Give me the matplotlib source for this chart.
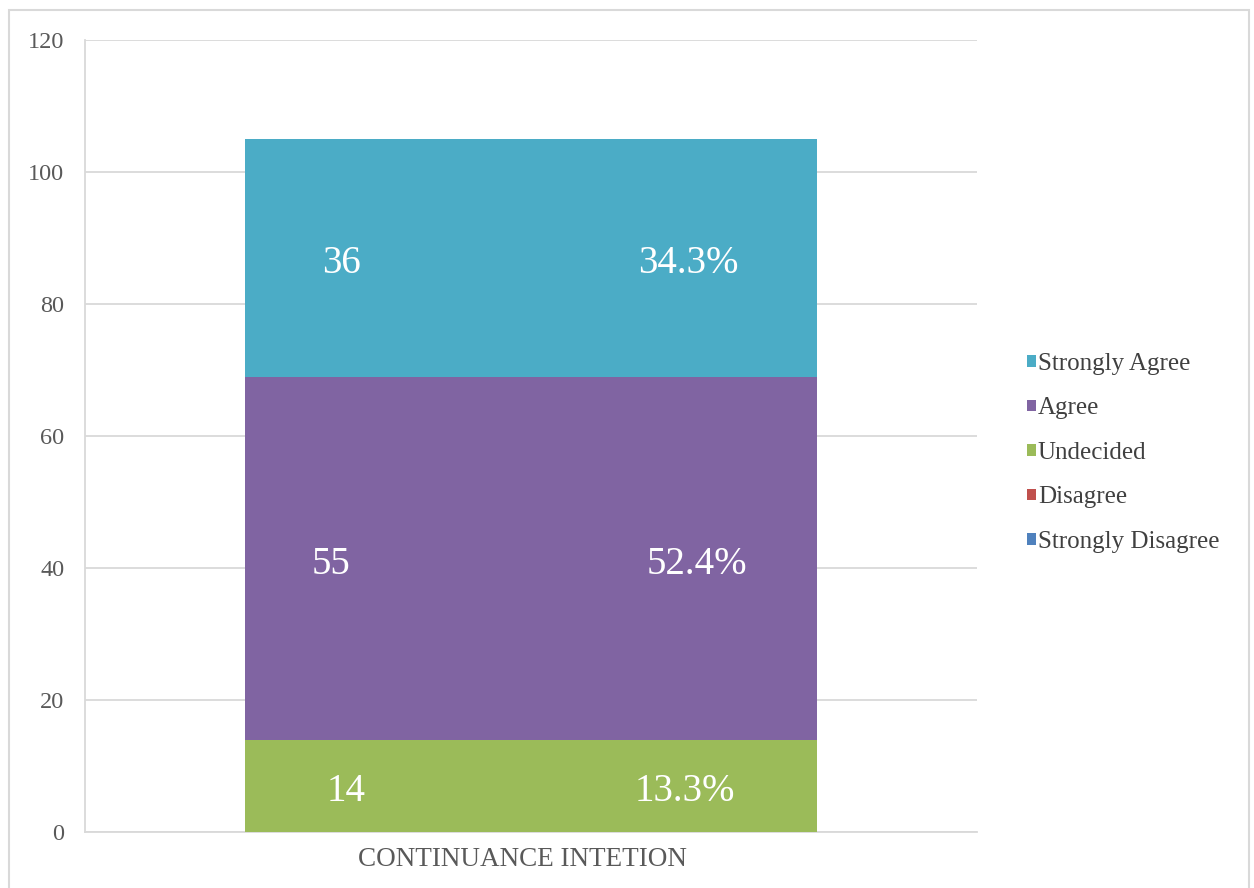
import matplotlib.pyplot as plt
from matplotlib.patches import Rectangle

plt.rcParams['font.family'] = ['Liberation Serif', 'DejaVu Serif']

category = "CONTINUANCE INTETION"
responses = ["Strongly Disagree", "Disagree", "Undecided", "Agree", "Strongly Agree"]
counts = [0, 0, 14, 55, 36]
percents = ["0.0%", "0.0%", "13.3%", "52.4%", "34.3%"]
colors = ["#4F81BD", "#C0504D", "#9BBB59", "#8064A2", "#4BACC6"]

# x positions of the two labels inside each segment (data units)
count_x = [-0.214, -0.214, -0.207, -0.224, -0.213]
pct_x = [0.172, 0.172, 0.172, 0.186, 0.176]

fig = plt.figure(figsize=(12.54, 8.88), dpi=100)
ax = fig.add_axes([0.0678, 0.0631, 0.7113, 0.8919])

# thin frame round the whole chart area
fig.patches.append(Rectangle((9 / 1254, -0.05), 1240 / 1254, 1.05 - 10 / 888,
                             transform=fig.transFigure, fill=False,
                             edgecolor="#d9d9d9", linewidth=1.5))

bottom = 0
bars = []
for i, (name, val, pct, col) in enumerate(zip(responses, counts, percents, colors)):
    b = ax.bar(0, val, width=0.642, bottom=bottom, color=col, label=name, zorder=3)
    bars.append(b)
    if val > 0:
        mid = bottom + val / 2 - 0.9
        ax.text(count_x[i], mid, str(val), ha="center", va="center",
                color="white", fontsize=28, zorder=4)
        ax.text(pct_x[i], mid, pct, ha="center", va="center",
                color="white", fontsize=28, zorder=4)
    bottom += val

ax.set_xlim(-0.5, 0.5)
ax.set_ylim(0, 120)
ax.set_yticks(range(0, 121, 20))
ax.set_xticks([-0.01])
ax.set_xticklabels([category])
ax.yaxis.grid(True, color="#d9d9d9", linewidth=1.3, zorder=0)
ax.tick_params(axis="y", length=0, pad=15, labelsize=17.5, labelcolor="#595959")
ax.tick_params(axis="x", length=0, pad=11, labelsize=19.5, labelcolor="#595959")

for side in ["top", "right"]:
    ax.spines[side].set_visible(False)
for side in ["left", "bottom"]:
    ax.spines[side].set_color("#d9d9d9")
    ax.spines[side].set_linewidth(1.3)

handles = bars[::-1]
labels = responses[::-1]
leg = fig.legend(handles, labels, loc="center left", bbox_to_anchor=(0.811, 0.490),
                 frameon=False, fontsize=18, handlelength=0.35, handleheight=0.35,
                 handletextpad=0.08, labelspacing=0.9, borderaxespad=0)
for t in leg.get_texts():
    t.set_color("#404040")

fig.savefig("out.png", dpi=100, facecolor="white")
